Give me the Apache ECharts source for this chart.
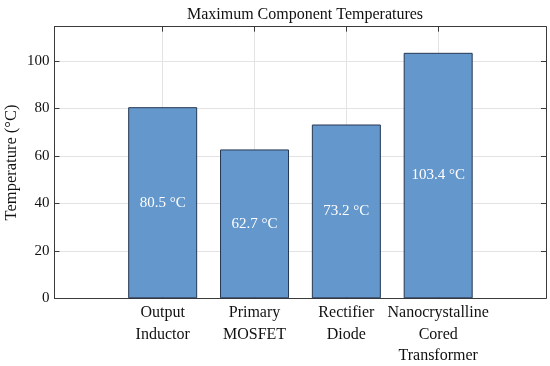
<!DOCTYPE html>
<html>
<head>
<meta charset="utf-8">
<script src="https://cdn.jsdelivr.net/npm/echarts@6/dist/echarts.min.js"></script>
<style>html,body{margin:0;padding:0;background:#fff}#c{width:550px;height:366px}</style>
</head>
<body>
<div id="c"></div>
<script>
var categories = ["Output\nInductor", "Primary\nMOSFET", "Rectifier\nDiode", "Nanocrystalline\nCored\nTransformer"];
var positions = [1, 2, 3, 4];
var temperatures = [80.5, 62.7, 73.2, 103.4];
var yTicks = [0, 20, 40, 60, 80, 100];

var FONT = '"Liberation Serif", serif';
var AX = '#3a3a3a';
var GRID = '#e3e3e3';

var barData = positions.map(function (p, i) { return [p, temperatures[i]]; });

var chart = echarts.init(document.getElementById('c'), null, {renderer: 'canvas'});
chart.setOption({
  animation: false,
  backgroundColor: '#fff',
  title: {
    text: 'Maximum Component Temperatures',
    left: 300, textAlign: 'center', top: 2,
    textStyle: {fontFamily: FONT, fontSize: 16, fontWeight: 'normal', color: '#111'}
  },
  grid: {left: 54.5, right: 4, top: 26.7, bottom: 67.7, containLabel: false, outerBoundsMode: 'none'},
  xAxis: [{
    type: 'value', min: -0.178, max: 5.174, position: 'bottom',
    axisLine: {show: true, onZero: false, lineStyle: {color: AX, width: 1}},
    axisTick: {show: true, inside: true, length: 5, customValues: positions, lineStyle: {color: AX}},
    axisLabel: {
      show: true, customValues: positions, margin: 4,
      fontFamily: FONT, fontSize: 16, color: '#111', lineHeight: 21.5,
      formatter: function (v) { var i = Math.round(v) - 1; return categories[i] || ''; }
    },
    splitLine: {show: true, lineStyle: {color: GRID, width: 1}}
  }, {
    type: 'value', min: -0.178, max: 5.174, position: 'top',
    axisLine: {show: true, onZero: false, lineStyle: {color: AX, width: 1}},
    axisTick: {show: true, inside: true, length: 5, customValues: positions, lineStyle: {color: AX}},
    axisLabel: {show: false},
    splitLine: {show: false}
  }],
  yAxis: [{
    type: 'value', min: 0, max: 114.4, interval: 20, position: 'left',
    name: 'Temperature (°C)', nameLocation: 'middle', nameGap: 34, nameRotate: 90,
    nameMoveOverlap: false,
    nameTextStyle: {fontFamily: FONT, fontSize: 16.5, color: '#111'},
    axisLine: {show: true, onZero: false, lineStyle: {color: AX, width: 1}},
    axisTick: {show: true, inside: true, length: 5, lineStyle: {color: AX}},
    axisLabel: {
      fontFamily: FONT, fontSize: 15, color: '#111', margin: 5,
      formatter: function (v) { return yTicks.indexOf(v) >= 0 ? String(v) : ''; }
    },
    splitLine: {show: true, lineStyle: {color: GRID, width: 1}}
  }, {
    type: 'value', min: 0, max: 114.4, interval: 20, position: 'right',
    axisLine: {show: true, onZero: false, lineStyle: {color: AX, width: 1}},
    axisTick: {show: true, inside: true, length: 5, lineStyle: {color: AX}},
    axisLabel: {show: false},
    splitLine: {show: false}
  }],
  series: [{
    type: 'bar',
    xAxisIndex: 0, yAxisIndex: 0,
    data: barData,
    barWidth: 69,
    itemStyle: {color: '#6497cb', borderColor: '#263752', borderWidth: 1},
    label: {
      show: true, position: 'inside',
      fontFamily: FONT, fontSize: 15, color: '#ffffff',
      formatter: function (p) { return p.value[1].toFixed(1) + ' °C'; }
    }
  }]
});
</script>
</body>
</html>
